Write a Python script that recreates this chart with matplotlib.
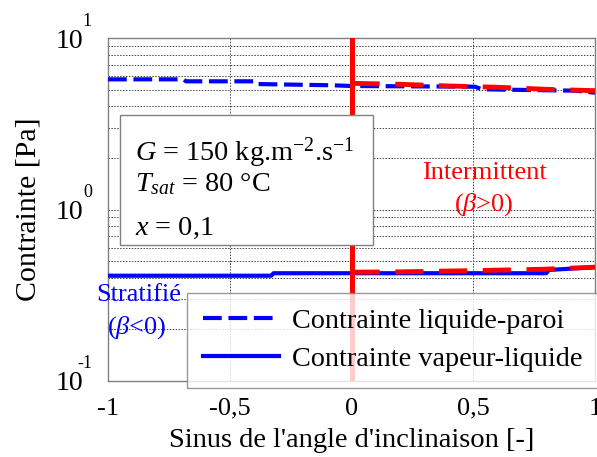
import matplotlib
matplotlib.use("Agg")
import matplotlib.pyplot as plt
from matplotlib.patches import Rectangle
from matplotlib.lines import Line2D

plt.rcParams["font.family"] = ["Liberation Serif", "DejaVu Serif"]
plt.rcParams["mathtext.fontset"] = "custom"
plt.rcParams["mathtext.rm"] = "Liberation Serif"
plt.rcParams["mathtext.it"] = "Liberation Serif:italic"
plt.rcParams["mathtext.bf"] = "Liberation Serif:bold"

# Liquid-wall shear stress (stratified model, whole range)
liq_wall_x = [-1.0, -0.69, -0.68, -0.40, -0.39, -0.08, 0.0, 0.507, 0.536, 0.92, 1.0]
liq_wall_y = [5.74, 5.74, 5.59, 5.59, 5.39, 5.30, 5.25, 5.20, 5.02, 4.93, 4.80]

# Vapour-liquid shear stress (stratified model, whole range)
vap_liq_x = [-1.0, -0.33, -0.32, 0.80, 0.81, 1.0]
vap_liq_y = [0.411, 0.411, 0.425, 0.425, 0.444, 0.461]

# Intermittent flow (beta > 0)
int_wall_x = [0.0, 0.2, 0.4, 0.6, 0.8, 1.0]
int_wall_y = [5.44, 5.37, 5.25, 5.16, 5.02, 4.93]
int_vap_x = [0.0, 0.2, 0.5, 0.78, 1.0]
int_vap_y = [0.431, 0.433, 0.440, 0.448, 0.461]

x_ticks = [-1, -0.5, 0, 0.5, 1]
x_tick_labels = ["-1", "-0,5", "0", "0,5", "1"]
y_ticks = [0.1, 1, 10]
y_tick_base = ["10", "10", "10"]
y_tick_exp = ["-1", "0", "1"]

BLUE = "#0000ff"
RED = "#ff0000"
FS = 19
FS_LAB = 20.5
FS_LEG = 20.3

fig = plt.figure(figsize=(5.97, 4.57), dpi=100)
ax = fig.add_axes([108 / 597, 76 / 457, 487 / 597, 343 / 457])
ax.set_yscale("log")
ax.set_xlim(-1, 1)
ax.set_ylim(0.1, 10)

ax.grid(True, which="both", axis="y", linestyle=(0, (1.5, 1.5)), color="#444444", lw=0.7)
ax.grid(True, which="major", axis="x", linestyle=(0, (1.5, 1.5)), color="#444444", lw=0.7)
ax.set_axisbelow(True)

ax.plot(liq_wall_x, liq_wall_y, color=BLUE, lw=3.0, linestyle=(0, (4.5, 1.6)), zorder=3)
ax.plot(vap_liq_x, vap_liq_y, color=BLUE, lw=3.0, linestyle="-", zorder=3)
ax.plot(int_wall_x, int_wall_y, color=RED, lw=3.5, linestyle=(0, (5.8, 3.2)), zorder=4)
ax.plot(int_vap_x, int_vap_y, color=RED, lw=3.5, linestyle=(0, (5.8, 3.2)), zorder=4)
ax.axvline(0, color=RED, lw=3.6, zorder=4)

ax.set_xticks(x_ticks)
ax.set_xticklabels(x_tick_labels, fontsize=FS)
ax.set_yticks(y_ticks)
ax.set_yticklabels(y_tick_base, fontsize=20)
ax.tick_params(axis="both", which="both", length=0)
ax.tick_params(axis="x", pad=12)
ax.tick_params(axis="y", pad=18)

# Decade exponents drawn as raised superscripts next to the "10"s
for yv, ex in zip(y_ticks, y_tick_exp):
    ax.annotate(ex, xy=(0, yv), xycoords=ax.get_yaxis_transform(),
                xytext=(-16, 17), textcoords="offset pixels",
                ha="right", va="center", fontsize=13)

ax.set_xlabel("Sinus de l'angle d'inclinaison [-]", fontsize=FS_LAB, labelpad=6)
ax.set_ylabel("Contrainte [Pa]", fontsize=21.5)
ax.yaxis.set_label_coords(-0.136, 0.5)
for s in ax.spines.values():
    s.set_color("#808080")
    s.set_linewidth(1.0)


def figpx(x, y):
    return (x / 597, 1 - y / 457)


# Operating conditions box
box = Rectangle((12 / 487, (381 - 245) / 343), 253 / 487, 130 / 343,
                transform=ax.transAxes, facecolor="white", edgecolor="#808080",
                lw=1.0, zorder=6)
ax.add_patch(box)
fig.text(*figpx(135, 161), r"$G$ = 150 kg.m$^{-2}$.s$^{-1}$", fontsize=FS_LEG,
         ha="left", va="baseline", zorder=7)
fig.text(*figpx(135, 191), r"$T_{sat}$ = 80 °C", fontsize=FS_LEG,
         ha="left", va="baseline", zorder=7)
fig.text(*figpx(135, 235), r"$x$ = 0,1", fontsize=FS_LEG,
         ha="left", va="baseline", zorder=7)

# Flow regime annotations
fig.text(*figpx(484, 173), "Intermittent", color=RED, fontsize=FS, ha="center", va="center")
fig.text(*figpx(484, 205), r"($\beta$>0)", color=RED, fontsize=FS, ha="center", va="center")
fig.text(*figpx(139, 295), "Stratifié", color=BLUE, fontsize=FS, ha="center", va="center")
fig.text(*figpx(137, 328), r"($\beta$<0)", color=BLUE, fontsize=FS, ha="center", va="center")

handles = [Line2D([], [], color=BLUE, lw=3.0, linestyle=(0, (4.5, 1.6))),
           Line2D([], [], color=BLUE, lw=3.0, linestyle="-")]
leg = ax.legend(handles, ["Contrainte liquide-paroi", "Contrainte vapeur-liquide"],
                loc="upper left", bbox_to_anchor=figpx(187, 293),
                bbox_transform=fig.transFigure, fontsize=FS_LEG, frameon=True,
                fancybox=False, borderaxespad=0, handlelength=2.73,
                handletextpad=0.45, borderpad=0.55, labelspacing=0.43)
leg.get_frame().set_edgecolor("#808080")
leg.get_frame().set_linewidth(1.0)
leg.set_zorder(8)

fig.savefig("out.png", dpi=100)
